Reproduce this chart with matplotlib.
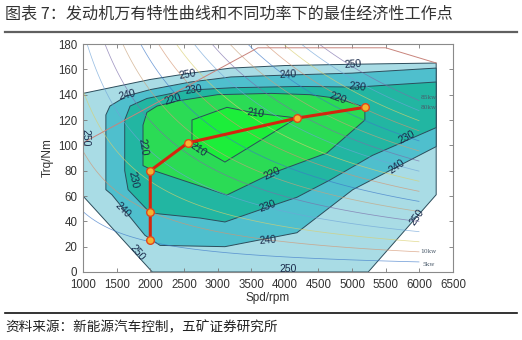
import numpy as np
import matplotlib
matplotlib.use("Agg")
import matplotlib.pyplot as plt
from matplotlib.lines import Line2D

# ---- data ----------------------------------------------------------------
title_text = "图表 7：发动机万有特性曲线和不同功率下的最佳经济性工作点"
source_text = "资料来源：新能源汽车控制，五矿证券研究所"

# BSFC band outlines (speed rpm, torque Nm), outer to inner
bsfc250_speed = [1000, 1000, 2000, 2600, 3200, 4000, 5000, 6250, 6250, 5240, 2030, 1000]
bsfc250_torque = [60, 141, 152, 157, 161, 163, 164, 165, 61, 0, 0, 60]

bsfc240_speed = [1340, 1340, 1400, 1650, 2000, 2600, 3200, 4050, 5000, 6250, 6250,
                 5010, 4180, 3110, 2145, 1920, 1430, 1340]
bsfc240_torque = [65, 124, 131, 139, 144, 150, 154, 155.5, 157, 161, 99,
                  65, 31, 20, 21, 29, 61, 65]

bsfc230_speed = [1620, 1620, 1700, 1950, 2545, 3230, 4225, 5073, 6250, 6250,
                 5300, 4670, 4180, 3750, 3110, 2740, 2000, 1670, 1620]
bsfc230_torque = [80, 120, 131, 137, 143.5, 145.5, 146.5, 146, 150, 114,
                  92, 72.6, 59, 51.3, 39.5, 42.6, 46.6, 65, 80]

bsfc220_speed = [1892, 1892, 1950, 2100, 2400, 3000, 3800, 4370, 4790, 5190, 5190,
                 4627, 3810, 3140, 2025, 1892]
bsfc220_torque = [84, 116, 126, 131, 135, 140, 141, 140, 137, 130, 120,
                  94, 78, 60.8, 80.5, 84]

bsfc210_speed = [2620, 2620, 3140, 3557, 4180, 3110, 2620]
bsfc210_torque = [101.8, 120, 130, 125.5, 121.6, 86.8, 101.8]

# full-load (max torque) line
envelope_speed = [1000, 3600, 5500, 6250]
envelope_torque = [102, 177, 177, 165]

# iso-power lines, kW
power_kw = [5, 10, 15, 20, 25, 30, 35, 40, 45, 50, 55, 60, 65, 70, 75, 80, 85]

# best-economy operating points
best_speed = [2000, 2000, 2000, 2560, 4180, 5190]
best_torque = [25, 47, 80, 102, 121.5, 130]

# contour value labels: (text, speed, torque, rotation)
contour_labels = [
    ("250", 2546, 156, 10), ("240", 1654, 140, 14), ("230", 2640, 144, 8),
    ("220", 2340, 136, 18), ("210", 2720, 97, -35), ("220", 1892, 99, -80),
    ("230", 1745, 73, -78), ("250", 1035, 106, -90), ("240", 1590, 49, -45),
    ("250", 1810, 15, -50), ("240", 4050, 156, 3), ("210", 3560, 125.5, -8),
    ("250", 5014, 164, 4), ("230", 5073, 146, -6), ("220", 4790, 137.5, -20),
    ("230", 5816, 106, 28), ("240", 5667, 83, 35), ("250", 5965, 43, 55),
    ("220", 3810, 78, 25), ("230", 3750, 52, 20), ("240", 3750, 25, 5),
    ("250", 4047, 2, 0),
]
power_labels = [("85kw", 6020, 138), ("80kw", 6020, 129.5), ("10kw", 6010, 15.8), ("5kw", 6040, 6.3)]

x_ticks = [1000, 1500, 2000, 2500, 3000, 3500, 4000, 4500, 5000, 5500, 6000, 6500]
y_ticks = [0, 20, 40, 60, 80, 100, 120, 140, 160, 180]

# ---- drawing ---------------------------------------------------------------
cjk = ["Noto Sans CJK SC", "DejaVu Sans"]
latin = "Liberation Sans"

fig = plt.figure(figsize=(5.22, 3.40), dpi=100)
W, H = 522, 340

fig.text(5 / W, 1 - 14 / H, title_text, family=cjk, fontsize=11.6, color="#333333",
         ha="left", va="center")
fig.add_artist(Line2D([5 / W, 517 / W], [1 - 32 / H] * 2, color="#606060", lw=1.6))
fig.add_artist(Line2D([5 / W, 517 / W], [1 - 313 / H] * 2, color="#111111", lw=1.2))
fig.text(5 / W, 1 - 327 / H, source_text, family=cjk, fontsize=9.8, color="#222222",
         ha="left", va="center")

ax = fig.add_axes([83 / W, 1 - 272 / H, 370 / W, 228 / H])

bands = [
    (bsfc250_speed, bsfc250_torque, "#a9dce5"),
    (bsfc240_speed, bsfc240_torque, "#4fbfcd"),
    (bsfc230_speed, bsfc230_torque, "#22b6a2"),
    (bsfc220_speed, bsfc220_torque, "#2bdb55"),
    (bsfc210_speed, bsfc210_torque, "#1cee3a"),
]
for sp, tq, col in bands:
    ax.fill(sp, tq, facecolor=col, edgecolor="#2c4d5c", lw=0.7, zorder=1)

# iso-power curves from the power levels
n_grid, t_grid = np.meshgrid(np.linspace(1000, 6000, 300), np.linspace(0, 180, 200))
p_grid = n_grid * t_grid / 9549.0
power_colors = ["#3c78c8", "#d49470", "#d9cf6e", "#6fa4d8", "#7b6daa", "#c9a27a"]
ax.contour(n_grid, t_grid, p_grid, levels=power_kw,
           colors=[power_colors[i % len(power_colors)] for i in range(len(power_kw))],
           linewidths=0.55, alpha=0.7, zorder=2)

ax.plot(envelope_speed, envelope_torque, color="#c9847c", lw=0.7, zorder=2)

for txt, sx, ty, rot in contour_labels:
    ax.text(sx, ty, txt, family=latin, fontsize=7.5, color="#1b2b4b", rotation=rot,
            ha="center", va="center", zorder=4)
for txt, sx, ty in power_labels:
    ax.text(sx, ty, txt, family="DejaVu Serif", fontsize=4.2, color="#4a5a6a",
            ha="left", va="center", zorder=4)

ax.plot(best_speed, best_torque, color="#d4260e", lw=2.2, zorder=5)
ax.plot(best_speed, best_torque, ls="none", marker="o", ms=5.5,
        markerfacecolor="#f3b431", markeredgecolor="#e2461a", markeredgewidth=1.0, zorder=6)

ax.set_xlim(1000, 6500)
ax.set_ylim(0, 180)
ax.set_xticks(x_ticks)
ax.set_yticks(y_ticks)
ax.tick_params(direction="in", length=3, width=0.6, color="#777777",
               top=True, right=True, labelsize=8.3, labelcolor="#333333")
ax.tick_params(axis="x", pad=5)
ax.tick_params(axis="y", pad=4)
for lab in ax.get_xticklabels() + ax.get_yticklabels():
    lab.set_family(latin)
for s in ax.spines.values():
    s.set_color("#8a8a8a")
    s.set_linewidth(0.8)

ax.set_xlabel("Spd/rpm", family=latin, fontsize=8.5, color="#333333", labelpad=1)
ax.set_ylabel("Trq/Nm", family=latin, fontsize=8.5, color="#333333", labelpad=3)

fig.savefig("out.png", dpi=100)
